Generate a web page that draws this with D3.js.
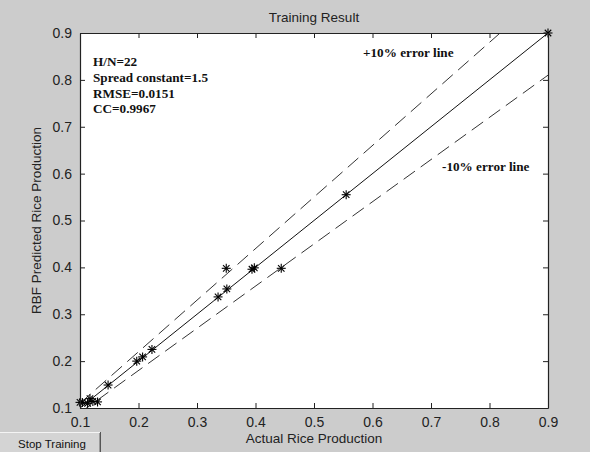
<!DOCTYPE html>
<html><head><meta charset="utf-8">
<script src="https://cdn.jsdelivr.net/npm/d3@7"></script>
<style>
html,body{margin:0;padding:0;background:#cccccc;}
svg{display:block;}
</style></head>
<body>
<svg id="chart" width="590" height="452"></svg>
<script>
// ---- data ----
const actual    = [0.900, 0.555, 0.444, 0.398, 0.394, 0.350, 0.351, 0.336, 0.223, 0.207, 0.197, 0.148, 0.130, 0.122, 0.117, 0.113, 0.104, 0.100];
const predicted = [0.900, 0.555, 0.398, 0.399, 0.396, 0.398, 0.354, 0.337, 0.225, 0.209, 0.200, 0.149, 0.113, 0.114, 0.120, 0.110, 0.112, 0.112];
const xTicks = [0.1, 0.2, 0.3, 0.4, 0.5, 0.6, 0.7, 0.8, 0.9];
const yTicks = [0.1, 0.2, 0.3, 0.4, 0.5, 0.6, 0.7, 0.8, 0.9];
const lineX = [0.1, 0.9];
const errorFactors = [1.1, 1.0, 0.9];
const annotations = ["H/N=22", "Spread constant=1.5", "RMSE=0.0151", "CC=0.9967"];
const title = "Training Result";
const xLabel = "Actual Rice Production";
const yLabel = "RBF Predicted Rice Production";

// ---- layout ----
const svg = d3.select("#chart");
const L = 80, R = 548, T = 33, B = 408;
const x = d3.scaleLinear().domain([0.1, 0.9]).range([L, R]);
const y = d3.scaleLinear().domain([0.1, 0.9]).range([B, T]);
const fontSans = "Arial, 'Liberation Sans', Helvetica, sans-serif";
const fontSerif = "'Times New Roman', 'Liberation Serif', serif";

svg.append("rect").attr("width", 590).attr("height", 452).attr("fill", "#cccccc");
svg.append("rect").attr("x", L).attr("y", T).attr("width", R - L).attr("height", B - T).attr("fill", "#fff");

svg.append("clipPath").attr("id", "clip").append("rect")
  .attr("x", L).attr("y", T).attr("width", R - L).attr("height", B - T);

const plot = svg.append("g").attr("clip-path", "url(#clip)");

// lines
const lineGen = d3.line().x(d => x(d[0])).y(d => y(d[1]));
errorFactors.forEach(f => {
  plot.append("path")
    .datum(lineX.map(v => [v, v * f]))
    .attr("d", lineGen)
    .attr("fill", "none")
    .attr("stroke", f === 1 ? "#111" : "#333")
    .attr("stroke-width", 1)
    .attr("stroke-dasharray", f === 1 ? null : "14,7");
});

// markers (asterisk)
const ms = 4.5;
const pts = actual.map((a, i) => [a, predicted[i]]);
const mk = svg.append("g");
pts.forEach(p => {
  const cx = x(p[0]), cy = y(p[1]);
  const g = mk.append("g").attr("transform", `translate(${cx},${cy})`)
    .attr("stroke", "#000").attr("stroke-width", 1.1);
  g.append("line").attr("x1", -ms).attr("x2", ms).attr("y1", 0).attr("y2", 0);
  g.append("line").attr("x1", 0).attr("x2", 0).attr("y1", -ms).attr("y2", ms);
  const d = ms * 0.72;
  g.append("line").attr("x1", -d).attr("x2", d).attr("y1", -d).attr("y2", d);
  g.append("line").attr("x1", -d).attr("x2", d).attr("y1", d).attr("y2", -d);
});

// axes box with inward ticks
const tk = 5;
const axG = svg.append("g");
axG.append("g").attr("transform", `translate(0,${B})`)
  .call(d3.axisBottom(x).tickValues(xTicks).tickSizeInner(-tk).tickSizeOuter(0).tickPadding(9).tickFormat(d3.format(".1f")));
axG.append("g").attr("transform", `translate(0,${T})`)
  .call(d3.axisTop(x).tickValues(xTicks).tickSizeInner(-tk).tickSizeOuter(0).tickFormat(""));
axG.append("g").attr("transform", `translate(${L},0)`)
  .call(d3.axisLeft(y).tickValues(yTicks).tickSizeInner(-tk).tickSizeOuter(0).tickPadding(8).tickFormat(d3.format(".1f")));
axG.append("g").attr("transform", `translate(${R},0)`)
  .call(d3.axisRight(y).tickValues(yTicks).tickSizeInner(-tk).tickSizeOuter(0).tickFormat(""));
axG.selectAll(".domain").attr("stroke", "#222").attr("stroke-width", 1.2);
axG.selectAll(".tick line").attr("stroke", "#222");
axG.selectAll(".tick text").attr("font-family", fontSans).attr("font-size", 14).attr("fill", "#222");

// title and labels
svg.append("text").attr("x", (L + R) / 2).attr("y", 22).attr("text-anchor", "middle")
  .attr("font-family", fontSans).attr("font-size", 13.5).attr("fill", "#222").text(title);
svg.append("text").attr("x", (L + R) / 2).attr("y", 443).attr("text-anchor", "middle")
  .attr("font-family", fontSans).attr("font-size", 13.5).attr("fill", "#222").text(xLabel);
svg.append("text").attr("transform", `translate(41,${(T + B) / 2}) rotate(-90)`).attr("text-anchor", "middle")
  .attr("font-family", fontSans).attr("font-size", 13.5).attr("fill", "#222").text(yLabel);

// annotations
const annY = [66, 82, 97.5, 113];
annotations.forEach((t, i) => {
  svg.append("text").attr("x", 93).attr("y", annY[i])
    .attr("font-family", fontSerif).attr("font-weight", "bold").attr("font-size", 13.2).attr("fill", "#111").text(t);
});
svg.append("text").attr("x", 363).attr("y", 57)
  .attr("font-family", fontSerif).attr("font-weight", "bold").attr("font-size", 13.2).attr("fill", "#111").text("+10% error line");
svg.append("text").attr("x", 442).attr("y", 171)
  .attr("font-family", fontSerif).attr("font-weight", "bold").attr("font-size", 13.2).attr("fill", "#111").text("-10% error line");

// Stop Training button
const btn = svg.append("g");
btn.append("rect").attr("x", 0).attr("y", 432).attr("width", 101).attr("height", 21).attr("fill", "#d4d4d4");
btn.append("line").attr("x1", 0).attr("x2", 101).attr("y1", 432.5).attr("y2", 432.5).attr("stroke", "#f4f4f4");
btn.append("line").attr("x1", 100.5).attr("x2", 100.5).attr("y1", 432).attr("y2", 452).attr("stroke", "#555");
btn.append("line").attr("x1", 99.5).attr("x2", 99.5).attr("y1", 433).attr("y2", 452).attr("stroke", "#999");
btn.append("text").attr("x", 52).attr("y", 447.5).attr("text-anchor", "middle")
  .attr("font-family", fontSans).attr("font-size", 11.5).attr("fill", "#111").text("Stop Training");
</script>
</body></html>
